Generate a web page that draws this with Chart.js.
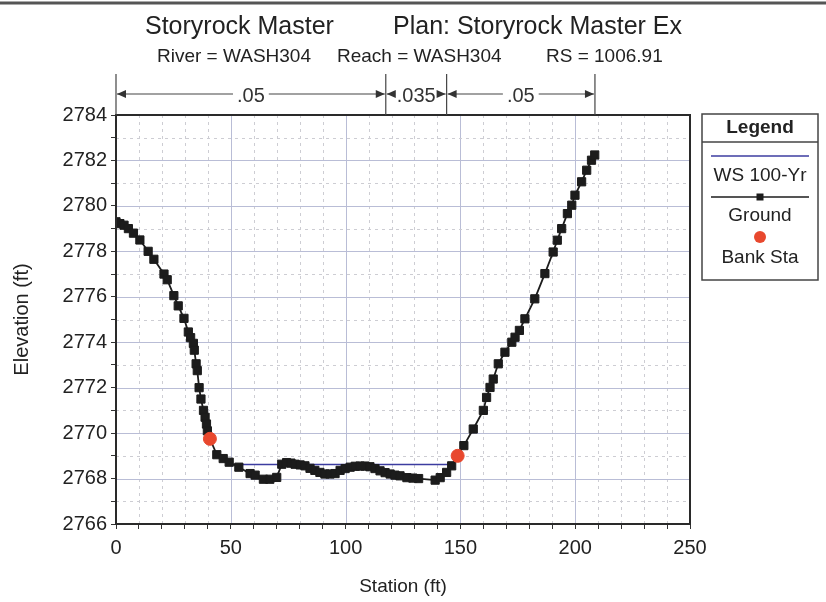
<!DOCTYPE html>
<html>
<head>
<meta charset="utf-8">
<script src="https://cdn.jsdelivr.net/npm/chart.js@4.4.1/dist/chart.umd.min.js"></script>
<style>
  html, body { margin: 0; padding: 0; background: #ffffff; }
  #wrap { width: 826px; height: 602px; }
</style>
</head>
<body>
<div id="wrap"><canvas id="xsChart" width="826" height="602"></canvas></div>
<script>
// Cross-section data (station ft, elevation ft)
const groundStation = [
  0, 1.7, 3.5, 5.4, 7.6, 10.4, 14.0, 16.5, 20.9, 22.3, 25.2, 27.1, 29.6, 31.5, 32.5,
  33.7, 34.1, 34.9, 35.4, 36.2, 37.0, 38.1, 38.8, 39.4, 39.8, 40.9, 43.9, 46.7, 49.3,
  53.5, 58.4, 60.6, 64.2, 67.0, 70.0, 72.2, 74.3, 76.2, 78.0, 80.2, 82.3, 84.5, 86.6,
  88.8, 91.0, 93.2, 95.4, 97.6, 99.8, 102.0, 104.2, 106.3, 108.5, 110.6, 112.8, 115.0,
  117.2, 119.4, 121.5, 123.7, 126.7, 129.3, 131.8, 139.0, 141.2, 144.0, 146.2, 148.8,
  151.5, 155.6, 160.0, 161.4, 162.9, 164.3, 166.5, 169.4, 172.4, 173.8, 175.7, 178.1,
  182.4, 186.8, 190.4, 192.2, 194.1, 196.6, 198.5, 199.9, 202.8, 205.0, 207.1, 208.5
];
const groundElevation = [
  2779.3, 2779.22, 2779.15, 2779.0, 2778.8, 2778.5, 2778.0, 2777.65, 2777.0, 2776.75, 2776.05, 2775.6, 2775.05, 2774.45, 2774.2,
  2773.95, 2773.65, 2773.05, 2772.75, 2772.0, 2771.5, 2771.0, 2770.7, 2770.4, 2770.1, 2769.75, 2769.05, 2768.88, 2768.72,
  2768.5, 2768.22, 2768.15, 2767.97, 2767.97, 2768.05, 2768.63, 2768.7, 2768.68, 2768.63, 2768.6, 2768.56, 2768.45, 2768.36,
  2768.27, 2768.2, 2768.2, 2768.22, 2768.36, 2768.44, 2768.5, 2768.54, 2768.55, 2768.55, 2768.52, 2768.44, 2768.34,
  2768.26, 2768.2, 2768.15, 2768.12, 2768.04, 2768.02, 2768.0, 2767.93, 2768.04, 2768.27, 2768.56, 2769.0,
  2769.45, 2770.18, 2771.0, 2771.57, 2772.01, 2772.38, 2773.05, 2773.56, 2774.0, 2774.22, 2774.52, 2775.03,
  2775.91, 2777.02, 2777.97, 2778.49, 2779.0, 2779.66, 2780.03, 2780.47, 2781.06, 2781.57, 2782.01, 2782.24
];

const wsStation = [51.0, 147.3];
const wsElevation = [2768.62, 2768.62];

const bankStation = [40.9, 148.8];
const bankElevation = [2769.75, 2769.0];

// Manning's n breaks along the top
const nBreakStation = [0, 117.5, 144.0, 208.6];
const nValues = ['.05', '.035', '.05'];

const seriesNames = ['WS 100-Yr', 'Ground', 'Bank Sta'];

const titleLeft = 'Storyrock Master';
const titleRight = 'Plan: Storyrock Master Ex';
const subtitleParts = ['River = WASH304', 'Reach = WASH304', 'RS = 1006.91'];

const FONT = '"Liberation Sans", Arial, sans-serif';
const WS_COLOR = '#3c3ca0';
const GROUND_COLOR = '#1c1c1c';
const BANK_COLOR = '#e8482e';

const toPoints = (xs, ys) => xs.map((x, i) => ({ x: x, y: ys[i] }));

/**
 * Grid lines, frame, titles, n-values and legend
 */
const decorPlugin = {
    id: 'decor',
    beforeDatasetsDraw(chart) {
        const { ctx, chartArea: a, scales } = chart;
        ctx.save();
        ctx.lineWidth = 1;
        // vertical grid
        for (let v = 10; v < 250; v += 10) {
            const px = Math.round(scales.x.getPixelForValue(v)) + 0.5;
            const major = v % 50 === 0;
            ctx.strokeStyle = major ? '#b9bdd6' : '#cdcdd3';
            ctx.setLineDash(major ? [] : [3, 4]);
            ctx.beginPath(); ctx.moveTo(px, a.top); ctx.lineTo(px, a.bottom); ctx.stroke();
        }
        // horizontal grid
        for (let v = 2767; v < 2784; v += 1) {
            const py = Math.round(scales.y.getPixelForValue(v)) + 0.5;
            const major = v % 2 === 0;
            ctx.strokeStyle = major ? '#b9bdd6' : '#cdcdd3';
            ctx.setLineDash(major ? [] : [3, 4]);
            ctx.beginPath(); ctx.moveTo(a.left, py); ctx.lineTo(a.right, py); ctx.stroke();
        }
        ctx.restore();
    },
    afterDraw(chart) {
        const { ctx, chartArea: a, scales } = chart;
        ctx.save();

        // frame
        ctx.strokeStyle = '#2a2a2a';
        ctx.lineWidth = 2;
        ctx.strokeRect(a.left, a.top, a.right - a.left, a.bottom - a.top);

        // top edge of scanned page
        ctx.strokeStyle = '#555';
        ctx.lineWidth = 3;
        ctx.beginPath(); ctx.moveTo(0, 3); ctx.lineTo(826, 3); ctx.stroke();

        // titles
        ctx.fillStyle = '#222';
        ctx.textBaseline = 'middle';
        ctx.textAlign = 'left';
        ctx.font = '25px ' + FONT;
        ctx.fillText(titleLeft, 145, 27);
        ctx.fillText(titleRight, 393, 27);
        ctx.font = '19px ' + FONT;
        ctx.fillText(subtitleParts[0], 157, 57);
        ctx.fillText(subtitleParts[1], 337, 57);
        ctx.fillText(subtitleParts[2], 546, 57);

        // axis titles
        ctx.font = '19px ' + FONT;
        ctx.textAlign = 'center';
        ctx.fillText('Station (ft)', (a.left + a.right) / 2, 587);
        ctx.save();
        ctx.translate(22, (a.top + a.bottom) / 2);
        ctx.rotate(-Math.PI / 2);
        ctx.font = '20px ' + FONT;
        ctx.fillText('Elevation (ft)', 0, 0);
        ctx.restore();

        // Manning's n bars
        const yArr = 94;
        ctx.strokeStyle = '#444';
        ctx.fillStyle = '#333';
        ctx.lineWidth = 1.2;
        const bx = nBreakStation.map(s => scales.x.getPixelForValue(s));
        bx.forEach(px => {
            ctx.beginPath(); ctx.moveTo(px, 74); ctx.lineTo(px, a.top); ctx.stroke();
        });
        ctx.font = '20px ' + FONT;
        for (let i = 0; i < nValues.length; i++) {
            const x0 = bx[i], x1 = bx[i + 1];
            const mid = (x0 + x1) / 2;
            const tw = ctx.measureText(nValues[i]).width;
            const gap = tw / 2 + 4;
            ctx.beginPath();
            ctx.moveTo(x0 + 1, yArr); ctx.lineTo(mid - gap, yArr);
            ctx.moveTo(mid + gap, yArr); ctx.lineTo(x1 - 1, yArr);
            ctx.stroke();
            // arrowheads
            ctx.beginPath();
            ctx.moveTo(x0 + 1, yArr); ctx.lineTo(x0 + 10, yArr - 4); ctx.lineTo(x0 + 10, yArr + 4); ctx.closePath();
            ctx.moveTo(x1 - 1, yArr); ctx.lineTo(x1 - 10, yArr - 4); ctx.lineTo(x1 - 10, yArr + 4); ctx.closePath();
            ctx.fill();
            ctx.fillText(nValues[i], mid, yArr + 2);
        }

        // legend box
        const lx = 702, ly = 114, lw = 116, lh = 166;
        const cx = lx + lw / 2;
        ctx.strokeStyle = '#444';
        ctx.lineWidth = 1.5;
        ctx.strokeRect(lx, ly, lw, lh);
        ctx.beginPath(); ctx.moveTo(lx, 142); ctx.lineTo(lx + lw, 142); ctx.stroke();
        ctx.fillStyle = '#222';
        ctx.font = 'bold 19px ' + FONT;
        ctx.fillText('Legend', cx, 128);
        ctx.font = '19px ' + FONT;
        // WS
        ctx.strokeStyle = WS_COLOR; ctx.lineWidth = 1.5;
        ctx.beginPath(); ctx.moveTo(lx + 9, 156); ctx.lineTo(lx + lw - 9, 156); ctx.stroke();
        ctx.fillText(seriesNames[0], cx, 176);
        // Ground
        ctx.strokeStyle = GROUND_COLOR;
        ctx.beginPath(); ctx.moveTo(lx + 9, 197); ctx.lineTo(lx + lw - 9, 197); ctx.stroke();
        ctx.fillStyle = GROUND_COLOR;
        ctx.fillRect(cx - 3.5, 197 - 3.5, 7, 7);
        ctx.fillStyle = '#222';
        ctx.fillText(seriesNames[1], cx, 216);
        // Bank
        ctx.fillStyle = BANK_COLOR;
        ctx.beginPath(); ctx.arc(cx, 237, 6, 0, Math.PI * 2); ctx.fill();
        ctx.fillStyle = '#222';
        ctx.fillText(seriesNames[2], cx, 258);

        ctx.restore();
    }
};

new Chart(document.getElementById('xsChart'), {
    type: 'scatter',
    data: {
        datasets: [{
            label: seriesNames[0],
            data: toPoints(wsStation, wsElevation),
            showLine: true,
            borderColor: WS_COLOR,
            borderWidth: 1.5,
            pointRadius: 0,
            order: 3
        }, {
            label: seriesNames[1],
            data: toPoints(groundStation, groundElevation),
            showLine: true,
            borderColor: GROUND_COLOR,
            backgroundColor: GROUND_COLOR,
            borderWidth: 1.8,
            pointStyle: 'rect',
            pointRadius: 5.8,
            pointBorderWidth: 1,
            order: 2
        }, {
            label: seriesNames[2],
            data: toPoints(bankStation, bankElevation),
            showLine: false,
            backgroundColor: BANK_COLOR,
            borderColor: BANK_COLOR,
            pointStyle: 'circle',
            pointRadius: 6.5,
            order: 1
        }]
    },
    options: {
        responsive: false,
        animation: false,
        layout: { padding: { left: 0, top: 115, right: 136, bottom: 0 } },
        plugins: {
            legend: { display: false },
            tooltip: { enabled: false }
        },
        scales: {
            x: {
                type: 'linear',
                min: 0,
                max: 250,
                afterFit: (scale) => { scale.height = 78; },
                grid: { drawOnChartArea: false, drawTicks: true, tickLength: 5, color: '#333' },
                border: { display: false },
                ticks: {
                    stepSize: 10,
                    autoSkip: false,
                    maxRotation: 0,
                    padding: 7,
                    color: '#222',
                    font: { family: FONT, size: 20 },
                    callback: (v) => (v % 50 === 0 ? v : '')
                }
            },
            y: {
                type: 'linear',
                min: 2766,
                max: 2784,
                afterFit: (scale) => { scale.width = 116; },
                grid: { drawOnChartArea: false, drawTicks: true, tickLength: 5, color: '#333' },
                border: { display: false },
                ticks: {
                    stepSize: 1,
                    autoSkip: false,
                    padding: 4,
                    color: '#222',
                    font: { family: FONT, size: 20 },
                    callback: (v) => (v % 2 === 0 ? v : '')
                }
            }
        }
    },
    plugins: [decorPlugin]
});
</script>
</body>
</html>
